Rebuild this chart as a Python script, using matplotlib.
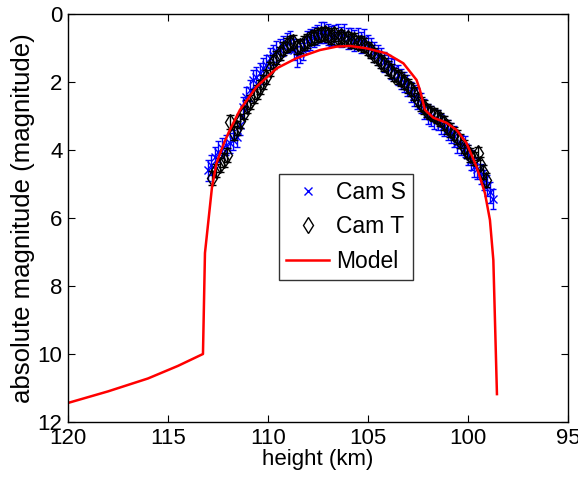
import matplotlib
matplotlib.use('Agg')
import matplotlib.pyplot as plt

plt.rcParams['font.family'] = ['Liberation Sans', 'DejaVu Sans']

# Cam S (blue crosses)
s_height = [113.0, 112.85, 112.65, 112.5, 112.3, 112.1, 111.9, 111.75, 111.55, 111.4,
            111.25, 111.1, 110.9, 110.75, 110.6, 110.4, 110.25, 110.1, 109.9, 109.75,
            109.6, 109.4, 109.25, 109.05, 108.9, 108.7, 108.55, 108.4, 108.25, 108.05,
            107.9, 107.7, 107.55, 107.35, 107.2, 107.0, 106.85, 106.7, 106.5, 106.35,
            106.2, 106.0, 105.85, 105.7, 105.5, 105.35, 105.2, 105.0, 104.85, 104.7,
            104.5, 104.35, 104.2, 104.0, 103.85, 103.7, 103.5, 103.35, 103.2, 103.05,
            102.85, 102.7, 102.55, 102.35, 102.2, 102.0, 101.85, 101.7, 101.5, 101.35,
            101.2, 101.0, 100.85, 100.7, 100.55, 100.35, 100.15, 100.0, 99.85, 99.7,
            99.55, 99.35, 99.2, 99.05, 98.9, 98.75]
s_mag = [4.6, 4.45, 4.2, 4.05, 3.95, 3.85, 3.8, 3.7, 3.62, 3.26,
         2.75, 2.45, 2.25, 1.95, 1.85, 1.75, 1.6, 1.5, 1.3, 1.2,
         1.1, 1.05, 0.95, 0.85, 0.8, 1.05, 1.25, 1.15, 1.05, 0.8,
         0.75, 0.68, 0.62, 0.55, 0.55, 0.6, 0.65, 0.62, 0.6, 0.68,
         0.6, 0.72, 0.7, 0.78, 0.72, 0.84, 0.74, 0.92, 1.0, 1.12,
         1.2, 1.3, 1.42, 1.5, 1.6, 1.62, 1.8, 1.92, 2.0, 2.1,
         2.3, 2.4, 2.48, 2.62, 2.8, 2.95, 3.0, 3.08, 3.12, 3.24,
         3.3, 3.42, 3.5, 3.6, 3.78, 3.85, 3.9, 4.15, 4.3, 4.5,
         4.55, 4.7, 4.88, 5.05, 5.25, 5.45]
s_err = 0.3

# Cam T (black diamonds)
t_height = [112.8, 112.6, 112.4, 112.2, 112.05, 111.9, 111.7, 111.55, 111.4, 111.2,
            111.05, 110.9, 110.7, 110.55, 110.4, 110.25, 110.1, 109.9, 109.75, 109.6,
            109.4, 109.25, 109.05, 108.9, 108.75, 108.55, 108.4, 108.2, 108.05, 107.85,
            107.7, 107.5, 107.35, 107.15, 107.0, 106.85, 106.7, 106.5, 106.35, 106.2,
            106.0, 105.85, 105.7, 105.5, 105.35, 105.2, 105.0, 104.85, 104.7, 104.5,
            104.35, 104.2, 104.0, 103.85, 103.7, 103.5, 103.35, 103.2, 103.0, 102.85,
            102.7, 102.5, 102.35, 102.2, 102.05, 101.9, 101.7, 101.55, 101.4, 101.2,
            101.05, 100.9, 100.7, 100.55, 100.4, 100.2, 100.05, 99.9, 99.7, 99.5,
            99.4, 99.25, 99.1]
t_mag = [4.83, 4.6, 4.45, 4.3, 4.15, 3.17, 3.5, 3.35, 3.15, 2.9,
         2.72, 2.58, 2.42, 2.3, 2.14, 2.0, 1.85, 1.62, 1.42, 1.28,
         1.16, 1.02, 0.91, 0.86, 0.81, 0.98, 0.95, 0.86, 0.8, 0.72,
         0.68, 0.62, 0.6, 0.57, 0.62, 0.68, 0.6, 0.72, 0.66, 0.74,
         0.72, 0.8, 0.76, 0.84, 0.86, 0.92, 1.02, 1.1, 1.2, 1.3,
         1.4, 1.48, 1.58, 1.68, 1.78, 1.86, 1.92, 2.0, 2.12, 2.22,
         2.34, 2.52, 2.64, 2.74, 2.84, 2.9, 2.96, 3.02, 3.1, 3.2,
         3.32, 3.42, 3.52, 3.62, 3.74, 3.9, 4.05, 4.15, 4.25, 4.1,
         4.4, 4.65, 4.88]
t_err = 0.2

# Model (red line)
m_height = [120.0, 118.0, 116.0, 114.5, 113.25, 113.15, 112.8, 112.57, 112.2, 111.9,
            111.4, 110.57, 109.57, 108.57, 107.4, 106.57, 105.9, 105.07, 104.07, 103.23,
            102.57, 102.4, 102.15, 101.73, 101.07, 100.57, 100.07, 99.57, 99.15, 98.9,
            98.73, 98.55]
m_mag = [11.44, 11.1, 10.72, 10.35, 10.0, 7.03, 5.1, 4.38, 3.8, 3.4,
         2.82, 2.14, 1.6, 1.3, 1.06, 0.96, 0.94, 1.01, 1.16, 1.45,
         1.94, 2.24, 2.82, 3.05, 3.2, 3.41, 3.8, 4.49, 5.27, 6.06,
         7.24, 11.18]

fig = plt.figure(figsize=(5.78, 4.86), dpi=100)
ax = fig.add_axes([0.1176, 0.1317, 0.865, 0.8395])

ax.errorbar(s_height, s_mag, yerr=s_err, fmt='none', ecolor='blue',
            elinewidth=1.0, capsize=2.5, capthick=1.0)
ax.plot(s_height, s_mag, 'x', color='blue', ms=5.5, mew=1.0, label='Cam S')
ax.errorbar(t_height, t_mag, yerr=t_err, fmt='none', ecolor='black',
            elinewidth=1.0, capsize=3, capthick=1.0)
ax.plot(t_height, t_mag, 'd', color='black', mfc='none', ms=8, mew=1.0,
        label='Cam T')
ax.plot(m_height, m_mag, '-', color='red', lw=1.8, label='Model')

ax.set_xlim(120, 95)
ax.set_ylim(12, 0)
ax.set_xticks([120, 115, 110, 105, 100, 95])
ax.set_yticks([0, 2, 4, 6, 8, 10, 12])
ax.tick_params(direction='in', top=True, right=True, length=5, width=0.8,
               labelsize=16, pad=4)
for sp in ax.spines.values():
    sp.set_linewidth(1.0)

ax.set_xlabel('height (km)', fontsize=16, labelpad=0)
ax.set_ylabel('absolute magnitude (magnitude)', fontsize=18.5, labelpad=2)

leg = ax.legend(loc='center', bbox_to_anchor=(0.556, 0.478), fontsize=16.5,
                frameon=True, fancybox=False, edgecolor='black',
                handlelength=1.9, borderpad=0.3, labelspacing=0.5,
                handletextpad=0.3, borderaxespad=0)
leg.get_frame().set_linewidth(1.0)

plt.savefig('out.png', dpi=100)
